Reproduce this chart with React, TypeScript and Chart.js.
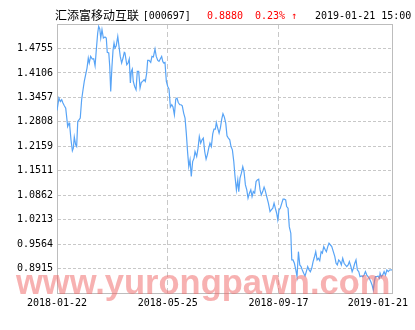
import React, { useEffect, useRef } from "react";
import { Chart, registerables } from "chart.js";

Chart.register(...registerables);

// ---- header texts ----
const fundName = "汇添富移动互联";
const fundCode = "[000697]";
const latestNav = "0.8880";
const latestChange = "0.23% ↑";
const latestTime = "2019-01-21 15:00";
const watermark = "www.yurongpawn.com";

// ---- axes ----
const xTickIndex = [0, 80, 160, 242];
const xTickLabels = ["2018-01-22", "2018-05-25", "2018-09-17", "2019-01-21"];
const yTickLabels = [
  "0.8915", "0.9564", "1.0213", "1.0862", "1.1511",
  "1.2159", "1.2808", "1.3457", "1.4106", "1.4755",
];
const yMin = 0.8266;
const yMax = 1.5404;

// ---- series: trading-day index and unit NAV ----
const dayIndex = [
  0, 1.4, 2.4, 3.4, 4.3, 5.3, 6.3, 7.2, 7.7, 8.7, 9.2, 10.1, 11.1, 11.8, 12.5, 13.5, 14.2, 15.0, 15.9, 16.8,
  17.8, 18.8, 19.7, 20.7, 21.7, 22.6, 23.3, 24.3, 25.5, 26.5, 27.5, 28.4, 29.4, 30.1, 30.9, 31.6, 32.5, 33.5,
  34.7, 35.6, 36.3, 37.4, 38.1, 38.8, 39.7, 40.5, 41.2, 41.9, 42.8, 43.9, 44.8, 45.7, 46.7, 47.7, 48.6,
  49.1, 50.4, 51.3, 52.2, 53.0, 53.7, 54.4, 55.1, 56.1, 57.1, 58.0, 59.0, 60.0, 60.9, 61.9, 62.9, 63.8, 64.8,
  65.5, 66.5, 67.7, 68.6, 69.6, 70.8, 71.7, 72.8, 73.7, 74.6, 75.6, 76.4, 77.1, 78.0, 79.0, 80.0, 80.9, 81.9,
  82.9, 83.8, 84.8, 85.8, 86.7, 87.6, 88.7, 89.6, 90.5, 91.5, 92.5, 93.4, 94.4, 95.2, 96.1, 97.0, 98.0, 99.0,
  99.7, 100.9, 101.9, 102.8, 103.8, 104.8, 105.7, 106.7, 107.7, 108.6, 109.6, 110.5, 111.5, 112.5, 113.4,
  114.4, 115.1, 116.1, 117.1, 118.0, 119.0, 119.9, 120.9, 121.9, 122.8, 123.8, 124.8, 125.7, 126.7, 127.7,
  128.6, 129.6, 130.6, 131.3, 132.2, 133.2, 134.2, 135.1, 136.1, 137.1, 138.0, 139.0, 140.0, 140.9, 141.8,
  142.8, 143.8, 144.7, 145.7, 146.7, 147.6, 148.6, 149.6,
  150.3, 151.5, 152.7, 153.9, 154.8, 155.9, 156.8, 157.7, 158.7, 159.5, 160.4, 161.3, 162.4, 163.3, 164.2,
  165.2, 165.9, 166.9, 167.8, 168.9, 169.6, 170.5, 171.5, 172.5, 173.4, 174.4, 175.4, 176.3, 177.2, 178.2,
  179.2, 180.1, 181.1, 182.1, 183.0, 184.0, 185.0, 185.9, 186.9, 187.9, 188.8, 189.8, 190.8, 191.7, 192.7,
  193.6, 194.6, 195.6, 196.5,
  198.5, 199.6, 200.7, 201.6, 202.5, 203.5, 204.5, 205.4, 206.4, 207.4, 208.3, 209.3, 210.3, 211.2, 212.2,
  213.2, 214.1, 215.1, 216.0, 217.0, 218.0, 218.9, 219.9, 220.9, 221.8, 222.8, 223.8, 224.7, 225.6, 226.7,
  227.6, 228.5, 229.3, 230.0, 231.0, 231.9, 232.9, 233.4, 234.3, 235.3, 236.3, 237.3, 238.3, 239.3, 240.3, 242,
];
const nav = [
  1.3109, 1.3439, 1.3348, 1.3393, 1.3306, 1.3234, 1.3173, 1.2862, 1.2684, 1.2774, 1.2703, 1.2331, 1.2039, 1.2110,
  1.2403, 1.2198, 1.2153, 1.2817, 1.2862, 1.2907,
  1.3393, 1.3659, 1.3880, 1.4058, 1.4236, 1.4501, 1.4368, 1.4544, 1.4475, 1.4483, 1.4297, 1.4722, 1.5165, 1.5341,
  1.5272, 1.5033, 1.5253, 1.5033,
  1.5059, 1.5033, 1.4650, 1.4634, 1.4278, 1.3614, 1.4278, 1.4722, 1.4900, 1.4767, 1.4828, 1.5075, 1.4810, 1.4544,
  1.4368, 1.4501, 1.4650,
  1.4634, 1.4323, 1.4368, 1.4475, 1.3837, 1.4145, 1.4209, 1.3880, 1.3747, 1.3659, 1.4145, 1.4145, 1.3704, 1.3853,
  1.3880, 1.3925, 1.3880, 1.4103,
  1.4437, 1.4437, 1.4384, 1.4544, 1.4528, 1.4740, 1.4544, 1.4437, 1.4411, 1.4475, 1.4544, 1.4411, 1.4368, 1.4384,
  1.3880, 1.3747, 1.3678, 1.3200,
  1.3261, 1.3200, 1.2995, 1.3412, 1.3439, 1.3322, 1.3261, 1.3261, 1.3234, 1.3040, 1.2907, 1.2509, 1.1977, 1.1621,
  1.1799, 1.1356, 1.1754, 1.1845,
  1.2020, 1.1887, 1.2110, 1.2418, 1.2243, 1.2331, 1.2376, 1.2020, 1.1818, 1.1932, 1.2110, 1.2243, 1.2153, 1.2490,
  1.2615,
  1.2615, 1.2790, 1.2642, 1.2509, 1.2642, 1.2881, 1.3022, 1.2934, 1.2774, 1.2437, 1.2376, 1.2331, 1.2153, 1.2065,
  1.1754,
  1.1356, 1.1002, 1.1268, 1.0957, 1.1313, 1.1446, 1.1621, 1.1489, 1.1135, 1.1002, 1.0782, 1.0915, 1.1002, 1.0824,
  1.0957,
  1.0915, 1.1223, 1.1268, 1.1287, 1.1002, 1.0870, 1.0957, 1.1074,
  1.1002, 1.0824, 1.0649, 1.0426, 1.0471, 1.0516, 1.0649, 1.0516, 1.0383, 1.0205, 1.0471, 1.0516, 1.0649, 1.0755,
  1.0755,
  1.0737, 1.0559, 1.0516, 1.0027, 0.9852, 0.9143, 0.9143, 0.9055, 0.8877, 0.8699, 0.9363, 0.9010, 0.8965, 0.8877,
  0.8789,
  0.8718, 0.8832, 0.8965, 0.8877, 0.8832, 0.8922, 0.9098, 0.9214, 0.9363, 0.9143, 0.9188, 0.9124, 0.9363, 0.9321,
  0.9496,
  0.9427, 0.9363, 0.9496, 0.9586,
  0.9496, 0.9363, 0.9230, 0.9055, 0.9010, 0.9143, 0.9098, 0.9010, 0.9188, 0.9055, 0.9010, 0.8965, 0.9010, 0.9098,
  0.8983,
  0.8832, 0.8922, 0.9055, 0.9143, 0.8877, 0.8832, 0.8699, 0.8718, 0.8699, 0.8744, 0.8832, 0.8744, 0.8699, 0.8657,
  0.8566,
  0.8479, 0.8346, 0.8566, 0.8699, 0.8699, 0.8718, 0.8657, 0.8789, 0.8699, 0.8744, 0.8832, 0.8744, 0.8877, 0.8832,
  0.8877, 0.8880,
];

const gridGray = "#c8c8c8";
const borderGray = "#bdbdbd";
const monoFont = '"DejaVu Sans Mono", monospace';

const xLabelPlugin = {
  id: "xDateLabels",
  afterDraw(chart: any) {
    const { ctx, chartArea, width } = chart;
    const xs = chart.scales.x;
    ctx.save();
    ctx.font = `10px ${monoFont}`;
    ctx.fillStyle = "#000";
    ctx.textAlign = "center";
    ctx.textBaseline = "alphabetic";
    xTickIndex.forEach((v, i) => {
      const label = xTickLabels[i];
      const w = ctx.measureText(label).width;
      let cx = xs.getPixelForValue(v);
      cx = Math.min(cx, width - 7 - w / 2);
      cx = Math.max(cx, w / 2 + 2);
      ctx.fillText(label, cx, chartArea.bottom + 13);
    });
    ctx.restore();
  },
};

export default function App() {
  const canvasRef = useRef<HTMLCanvasElement | null>(null);

  useEffect(() => {
    document.body.style.margin = "0";
    const canvas = canvasRef.current;
    if (!canvas) return;
    const lastY = yTickLabels.length + 1;
    const lastX = xTickIndex.length - 1;
    const chart = new Chart(canvas, {
      type: "line",
      data: {
        datasets: [
          {
            data: dayIndex.map((d, i) => ({ x: d, y: nav[i] })),
            borderColor: "rgb(88,164,246)",
            borderWidth: 1.2,
            pointRadius: 0,
            tension: 0,
            fill: false,
          },
        ],
      },
      options: {
        animation: false,
        responsive: false,
        devicePixelRatio: 1,
        layout: { padding: { left: 0, right: 23, top: 24, bottom: 37 } },
        plugins: { legend: { display: false }, tooltip: { enabled: false }, title: { display: false } },
        scales: {
          x: {
            type: "linear",
            min: 0,
            max: 242,
            afterBuildTicks: (s: any) => {
              s.ticks = xTickIndex.map((v) => ({ value: v }));
            },
            afterFit: (s: any) => {
              s.height = 0;
            },
            ticks: { display: false },
            grid: {
              color: (c: any) => (c.index === lastX ? borderGray : gridGray),
              drawTicks: false,
              lineWidth: 1,
            },
            border: {
              display: true,
              color: borderGray,
              width: 1,
              dash: (c: any) => (c.index === lastX ? [] : [5, 3]),
            },
          },
          y: {
            type: "linear",
            min: yMin,
            max: yMax,
            afterBuildTicks: (s: any) => {
              s.ticks = [yMin, ...yTickLabels.map(Number), yMax].map((v) => ({ value: v }));
            },
            afterFit: (s: any) => {
              s.width = 57;
            },
            ticks: {
              callback: (_v: any, i: number) => (i === 0 || i === lastY ? "" : yTickLabels[i - 1]),
              font: { family: monoFont, size: 10 },
              color: "#000",
              padding: 4,
            },
            grid: {
              color: (c: any) => (c.index === lastY ? borderGray : gridGray),
              drawTicks: false,
              lineWidth: 1,
            },
            border: {
              display: true,
              color: borderGray,
              width: 1,
              dash: (c: any) => (c.index === lastY ? [] : [3, 2]),
            },
          },
        },
      },
      plugins: [xLabelPlugin],
    });
    return () => chart.destroy();
  }, []);

  const mono: React.CSSProperties = {
    position: "absolute",
    fontFamily: monoFont,
    fontSize: "10px",
    lineHeight: "12px",
    top: "9.8px",
    whiteSpace: "pre",
  };

  return (
    <div style={{ position: "relative", width: 415, height: 330, background: "#fff", overflow: "hidden" }}>
      <canvas ref={canvasRef} width={415} height={330} style={{ display: "block" }} />
      <span
        style={{
          position: "absolute",
          left: 55,
          top: "8.7px",
          fontFamily: '"Noto Sans CJK SC", sans-serif',
          fontSize: "12px",
          lineHeight: "12px",
          color: "#000",
          whiteSpace: "pre",
        }}
      >
        {fundName}
      </span>
      <span style={{ ...mono, left: 142.7, color: "#000" }}>{fundCode}</span>
      <span style={{ ...mono, left: 207, color: "#ff0000" }}>{latestNav}</span>
      <span style={{ ...mono, left: 255, color: "#ff0000" }}>{latestChange}</span>
      <span style={{ ...mono, left: 315, color: "#000" }}>{latestTime}</span>
      <span
        style={{
          position: "absolute",
          left: 16,
          top: 262,
          fontFamily: '"Liberation Sans", Arial, sans-serif',
          fontWeight: "bold",
          fontSize: "34.5px",
          lineHeight: "40px",
          color: "rgba(240,100,100,0.5)",
          whiteSpace: "pre",
          pointerEvents: "none",
        }}
      >
        {watermark}
      </span>
    </div>
  );
}
